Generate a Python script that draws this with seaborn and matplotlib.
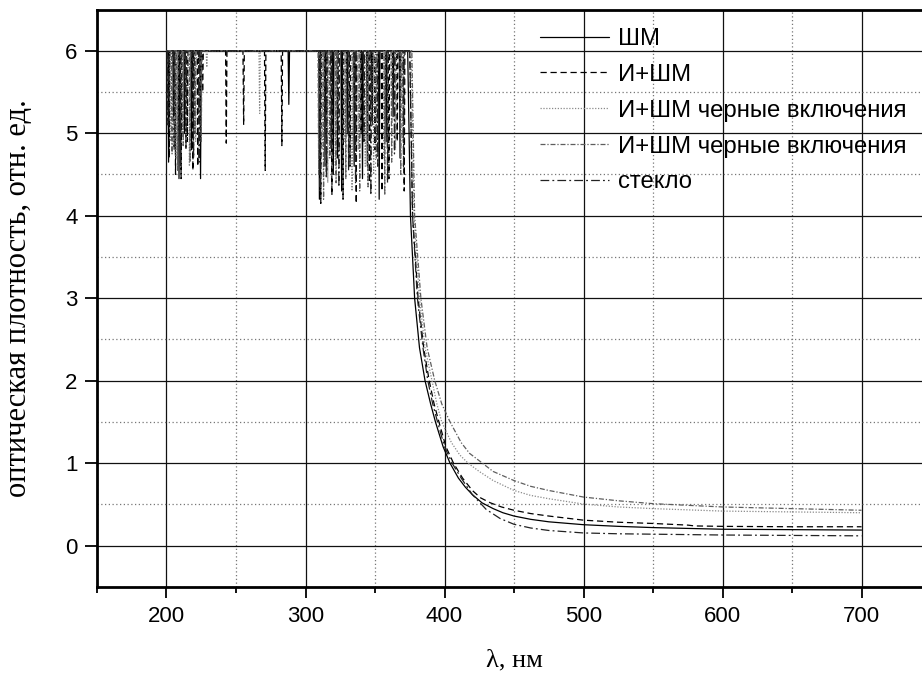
import numpy as np
import pandas as pd
import matplotlib
matplotlib.use("Agg")
import matplotlib.pyplot as plt
import seaborn as sns
from matplotlib.ticker import MultipleLocator, FixedLocator

# ---------------- data ----------------
SAT = 6.0          # saturated level of the spectrometer
START_NM = 200.0   # first wavelength of every spectrum

labels = ["ШМ", "И+ШМ", "И+ШМ черные включения", "И+ШМ черные включения", "стекло"]

# noise spikes in the saturated region (wavelength, minimum value)
shm_spike_nm = [201.5, 205, 209, 213, 218, 224.5, 288, 310, 314, 320, 326, 330, 335, 341,
                344.5, 348, 353, 358, 363, 368]
shm_spike_od = [4.65, 5.2, 4.45, 5.0, 4.8, 4.45, 5.35, 4.2, 4.6, 4.5, 4.3, 5.0, 4.6, 4.45,
                4.6, 5.1, 4.2, 4.9, 5.2, 4.7]
ish_spike_nm = [202, 206.5, 210.5, 215, 219, 222.5, 226, 243, 255.5, 271, 283, 311, 315.5,
                319, 323, 327, 332, 336.5, 340, 346, 350, 355, 360, 366, 371]
ish_spike_od = [4.7, 4.5, 4.45, 4.9, 4.55, 4.6, 5.5, 4.88, 5.1, 4.55, 4.85, 4.15, 4.55,
                4.25, 4.7, 4.2, 4.6, 4.15, 5.0, 4.4, 4.8, 4.3, 4.45, 4.9, 4.3]
bl1_spike_nm = [203, 207, 211.5, 216.5, 221, 229, 267, 312, 316, 321.5, 328, 333.5, 338,
                343, 349, 356.5, 364.7, 370]
bl1_spike_od = [4.9, 4.7, 5.0, 4.6, 4.9, 5.8, 5.24, 4.8, 4.4, 4.6, 4.9, 4.3, 4.8,
                4.6, 4.5, 4.7, 4.8, 4.9]
bl2_spike_nm = [204, 208, 212, 217, 220.5, 225, 309.5, 313, 317.5, 322, 329, 334.5, 339,
                345, 351, 357, 362, 368.5]
bl2_spike_od = [4.75, 4.55, 4.85, 4.65, 5.0, 4.9, 4.5, 4.2, 4.7, 4.4, 4.45, 4.8, 4.3,
                4.35, 4.7, 4.25, 4.65, 4.5]
gls_spike_nm = [201, 205.5, 210, 214, 219.5, 223.5, 310.5, 315, 318.5, 324, 331, 336, 342,
                347, 352, 359, 364, 370.5]
gls_spike_od = [5.1, 4.8, 4.6, 4.8, 4.7, 4.65, 4.3, 4.45, 4.8, 4.35, 4.55, 4.4, 4.9,
                4.25, 4.6, 4.4, 4.75, 4.6]

# absorption edge and tail (wavelength, value)
shm_curve_nm = [373.5, 375.5, 378.5, 382, 386, 390, 393.5, 399, 404, 410, 415, 420, 427,
                435, 442, 450, 462, 475, 500, 525, 550, 600, 650, 700]
shm_curve_od = [6.0, 4.0, 3.0, 2.4, 2.0, 1.72, 1.5, 1.2, 1.0, 0.82, 0.71, 0.62, 0.52,
                0.45, 0.4, 0.36, 0.32, 0.29, 0.255, 0.235, 0.22, 0.20, 0.195, 0.19]
ish_curve_nm = [375, 377, 381, 385, 389, 392.5, 396, 401, 406.5, 413, 420, 426, 433, 441,
                450, 462, 475, 500, 525, 550, 575, 580, 600, 650, 700]
ish_curve_od = [6.0, 4.0, 3.0, 2.4, 2.0, 1.72, 1.5, 1.2, 1.0, 0.82, 0.67, 0.58, 0.52,
                0.47, 0.43, 0.39, 0.36, 0.31, 0.285, 0.27, 0.25, 0.24, 0.235, 0.23, 0.23]
bl1_curve_nm = [376, 378, 382, 386, 391, 394.5, 398, 405, 411, 417, 425, 435, 450, 462,
                475, 500, 525, 550, 600, 650, 700]
bl1_curve_od = [6.0, 4.0, 3.0, 2.4, 2.0, 1.72, 1.5, 1.25, 1.1, 1.0, 0.9, 0.79, 0.67, 0.61,
                0.57, 0.505, 0.47, 0.45, 0.42, 0.41, 0.40]
bl2_curve_nm = [376.5, 378.5, 383, 387.5, 393, 398, 404, 412, 418, 425, 435, 450, 462,
                475, 500, 525, 550, 600, 650, 700]
bl2_curve_od = [6.0, 4.0, 3.0, 2.4, 2.0, 1.72, 1.5, 1.25, 1.12, 1.03, 0.9, 0.79, 0.72,
                0.67, 0.59, 0.545, 0.51, 0.47, 0.45, 0.43]
gls_curve_nm = [375, 377, 380.5, 384.5, 388, 391.5, 395, 400, 405.5, 412, 420, 430, 440,
                450, 462, 475, 500, 525, 550, 600, 650, 700]
gls_curve_od = [6.0, 4.0, 3.0, 2.4, 2.0, 1.72, 1.5, 1.2, 1.0, 0.82, 0.62, 0.44, 0.33,
                0.26, 0.215, 0.185, 0.155, 0.145, 0.14, 0.13, 0.125, 0.12]

x_major = [200, 300, 400, 500, 600, 700]
y_major = [0, 1, 2, 3, 4, 5, 6]


def build(spike_nm, spike_od, curve_nm, curve_od):
    xs, ys = [START_NM], [SAT]
    for s, d in zip(spike_nm, spike_od):
        xs += [s - 0.5, s, s + 0.5]
        ys += [SAT, d, SAT]
    xs += list(curve_nm)
    ys += list(curve_od)
    return pd.DataFrame({"nm": xs, "od": ys})


series = [
    build(shm_spike_nm, shm_spike_od, shm_curve_nm, shm_curve_od),
    build(ish_spike_nm, ish_spike_od, ish_curve_nm, ish_curve_od),
    build(bl1_spike_nm, bl1_spike_od, bl1_curve_nm, bl1_curve_od),
    build(bl2_spike_nm, bl2_spike_od, bl2_curve_nm, bl2_curve_od),
    build(gls_spike_nm, gls_spike_od, gls_curve_nm, gls_curve_od),
]
styles = [
    dict(color="#000000", linestyle="-", lw=0.9),
    dict(color="#000000", linestyle=(0, (5, 3)), lw=0.9),
    dict(color="#8a8a8a", linestyle=(0, (1, 1.3)), lw=0.9),
    dict(color="#5e5e5e", linestyle=(0, (4, 1.5, 1, 1.5)), lw=0.9),
    dict(color="#222222", linestyle=(0, (7, 2.5, 1.5, 2.5)), lw=0.9),
]

# ---------------- figure ----------------
sns.set_style("white")
plt.rcParams["font.family"] = ["Liberation Sans", "DejaVu Sans"]
plt.rcParams["text.color"] = "black"
plt.rcParams["axes.labelcolor"] = "black"
plt.rcParams["xtick.color"] = "black"
plt.rcParams["ytick.color"] = "black"

fig = plt.figure(figsize=(9.22, 6.74), dpi=100)
ax = fig.add_axes([0.1052, 0.1291, 0.9046, 0.8568])

for df, lab, st in zip(series, labels, styles):
    sns.lineplot(data=df, x="nm", y="od", ax=ax, label=lab, estimator=None, sort=False,
                 **st)

ax.set_xlim(150, 750)
ax.set_ylim(-0.5, 6.5)
ax.xaxis.set_major_locator(FixedLocator(x_major))
ax.xaxis.set_minor_locator(MultipleLocator(50))
ax.yaxis.set_major_locator(FixedLocator(y_major))
ax.yaxis.set_minor_locator(MultipleLocator(0.5))
ax.set_xticklabels([str(v) for v in x_major])
ax.set_yticklabels([str(v) for v in y_major])

ax.grid(which="major", color="#111111", lw=0.9, ls="-")
ax.grid(which="minor", color="#777777", lw=0.9, ls=(0, (1, 2)))
ax.set_axisbelow(True)

ax.tick_params(axis="x", which="major", direction="out", length=8, width=1.3,
               labelsize=16, pad=6, bottom=True, colors="black")
ax.tick_params(axis="x", which="minor", direction="out", length=4.5, width=1.3, bottom=True)
ax.tick_params(axis="y", which="major", direction="out", length=9, width=1.3,
               labelsize=16, pad=5, left=True, colors="black")
ax.tick_params(axis="y", which="minor", length=0)

for side in ["left", "bottom", "top"]:
    ax.spines[side].set_linewidth(2.0)
    ax.spines[side].set_color("black")
ax.spines["right"].set_visible(False)

ax.set_xlabel("λ, нм", family=["Liberation Serif", "DejaVu Serif"], fontsize=19,
              color="black")
ax.set_ylabel("оптическая плотность, отн. ед.", family=["Liberation Serif", "DejaVu Serif"],
              fontsize=22, color="black")
ax.xaxis.set_label_coords(0.5, -0.108)
ax.yaxis.set_label_coords(-0.077, 0.5)

leg = ax.legend(loc="upper left", bbox_to_anchor=(0.531, 0.968), frameon=False,
                borderpad=0, borderaxespad=0, handlelength=2.9, handletextpad=0.35,
                labelspacing=0.58, fontsize=17.2)
for t in leg.get_texts():
    t.set_color("black")

fig.savefig("out.png", dpi=100)
